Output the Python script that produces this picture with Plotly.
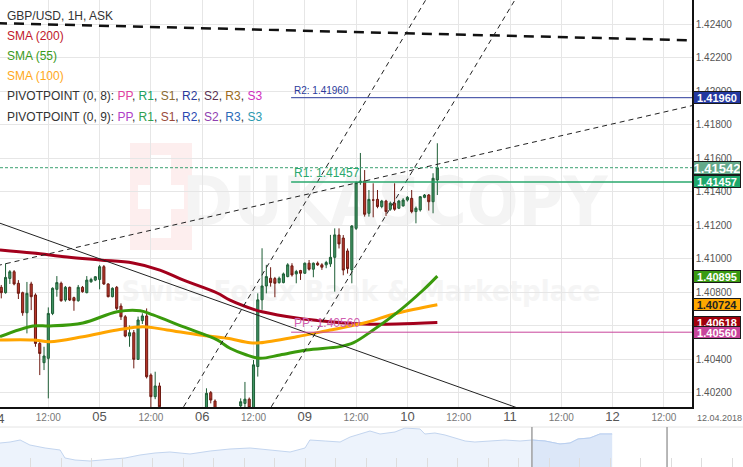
import plotly.graph_objects as go

# ---------------- data ----------------
# trading-hour index: 04.04 00:00 = 0, weekend removed (09.04 00:00 = 72)
hours = list(range(1, 104))
opens = [1.40828, 1.40796, 1.40881, 1.40921, 1.40852, 1.40796, 1.40676, 1.40848, 1.40782, 1.40493,
         1.40378, 1.40404, 1.40672, 1.40816, 1.40852, 1.40752, 1.40828, 1.40766, 1.40748, 1.40828,
         1.40796, 1.40861, 1.40871, 1.40875, 1.40951, 1.40848, 1.40772, 1.40828, 1.40716, 1.40652,
         1.40537, 1.40557, 1.40398, 1.40629, 1.40657, 1.40304, 1.40175, 1.40239, 1.40100, 1.40030,
         1.40070, 1.39990, 1.39940, 1.39995, 1.40050, 1.39980, 1.40040, 1.40080, 1.40090, 1.40199,
         1.40149, 1.40090, 1.40040, 1.40080, 1.40030, 1.40070, 1.40120, 1.40135, 1.40160, 1.40105,
         1.40355, 1.40753, 1.40836, 1.40882, 1.40880, 1.40856, 1.40856, 1.40892, 1.40956, 1.40908,
         1.40928, 1.40912, 1.40972, 1.40936, 1.40972, 1.40962, 1.40962, 1.40968, 1.41007, 1.41140,
         1.41122, 1.41045, 1.40932, 1.41180, 1.41453, 1.41463, 1.41270, 1.41349, 1.41353, 1.41310,
         1.41343, 1.41294, 1.41330, 1.41300, 1.41314, 1.41349, 1.41359, 1.41280, 1.41290, 1.41365,
         1.41379, 1.41339, 1.41469]
highs = [1.40842, 1.40971, 1.40931, 1.40931, 1.40871, 1.40802, 1.40860, 1.40861, 1.40792, 1.40503,
         1.40473, 1.40708, 1.40828, 1.40895, 1.40862, 1.40836, 1.40832, 1.40772, 1.40842, 1.40836,
         1.40895, 1.40885, 1.40895, 1.40961, 1.40961, 1.40852, 1.40828, 1.40836, 1.40732, 1.40662,
         1.40600, 1.40573, 1.40653, 1.40673, 1.40702, 1.40314, 1.40324, 1.40259, 1.40105, 1.40095,
         1.40090, 1.40010, 1.40020, 1.40080, 1.40070, 1.40060, 1.40095, 1.40100, 1.40225, 1.40209,
         1.40159, 1.40105, 1.40100, 1.40095, 1.40090, 1.40105, 1.40165, 1.40263, 1.40170, 1.40394,
         1.40792, 1.41061, 1.40962, 1.40948, 1.40890, 1.40892, 1.40916, 1.40972, 1.40972, 1.40932,
         1.40932, 1.40976, 1.40991, 1.40976, 1.40982, 1.40972, 1.40986, 1.41141, 1.41180, 1.41180,
         1.41140, 1.41060, 1.41200, 1.41460, 1.41630, 1.41528, 1.41409, 1.41449, 1.41409, 1.41350,
         1.41350, 1.41340, 1.41449, 1.41350, 1.41360, 1.41373, 1.41409, 1.41310, 1.41373, 1.41385,
         1.41385, 1.41509, 1.41688]
lows = [1.40762, 1.40790, 1.40848, 1.40840, 1.40758, 1.40658, 1.40553, 1.40692, 1.40473, 1.40304,
        1.40334, 1.40165, 1.40662, 1.40772, 1.40742, 1.40742, 1.40746, 1.40688, 1.40742, 1.40796,
        1.40792, 1.40855, 1.40865, 1.40816, 1.40842, 1.40768, 1.40768, 1.40692, 1.40633, 1.40530,
        1.40473, 1.40344, 1.40394, 1.40609, 1.40284, 1.40100, 1.40160, 1.40060, 1.39980, 1.40000,
        1.39960, 1.39900, 1.39920, 1.39970, 1.39950, 1.39960, 1.40010, 1.40050, 1.40060, 1.40135,
        1.40050, 1.40000, 1.40020, 1.39990, 1.40010, 1.40050, 1.40080, 1.40110, 1.40080, 1.40070,
        1.40295, 1.40693, 1.40792, 1.40832, 1.40769, 1.40850, 1.40852, 1.40888, 1.40892, 1.40852,
        1.40872, 1.40908, 1.40928, 1.40888, 1.40956, 1.40932, 1.40942, 1.40950, 1.40802, 1.41060,
        1.40900, 1.40910, 1.40852, 1.41170, 1.41440, 1.41250, 1.41250, 1.41246, 1.41300, 1.41300,
        1.41254, 1.41285, 1.41285, 1.41295, 1.41310, 1.41340, 1.41270, 1.41210, 1.41280, 1.41360,
        1.41286, 1.41270, 1.41379]
closes = [1.40796, 1.40887, 1.40921, 1.40848, 1.40792, 1.40676, 1.40792, 1.40772, 1.40493, 1.40433,
          1.40418, 1.40672, 1.40822, 1.40856, 1.40748, 1.40828, 1.40752, 1.40748, 1.40828, 1.40802,
          1.40871, 1.40875, 1.40891, 1.40951, 1.40848, 1.40772, 1.40822, 1.40702, 1.40652, 1.40537,
          1.40557, 1.40398, 1.40633, 1.40657, 1.40294, 1.40175, 1.40239, 1.40115, 1.40030, 1.40070,
          1.39990, 1.39940, 1.39995, 1.40050, 1.39980, 1.40040, 1.40080, 1.40090, 1.40195, 1.40155,
          1.40090, 1.40040, 1.40080, 1.40030, 1.40070, 1.40100, 1.40145, 1.40160, 1.40110, 1.40365,
          1.40753, 1.40836, 1.40892, 1.40856, 1.40852, 1.40882, 1.40908, 1.40962, 1.40902, 1.40922,
          1.40912, 1.40972, 1.40936, 1.40972, 1.40962, 1.40948, 1.40976, 1.41007, 1.41141, 1.41087,
          1.40931, 1.40940, 1.41194, 1.41453, 1.41462, 1.41264, 1.41353, 1.41349, 1.41310, 1.41343,
          1.41280, 1.41330, 1.41294, 1.41343, 1.41349, 1.41365, 1.41280, 1.41300, 1.41369, 1.41379,
          1.41339, 1.41479, 1.41542]

sma200_hours = [0.7, 8.4, 16.4, 24.1, 31.8, 38.1, 43.5, 51.5, 54.5, 60.2, 62.0, 70.1, 77.9, 85.6, 93.5, 103]
sma200_vals = [1.41051, 1.41033, 1.41009, 1.40991, 1.40973, 1.40931, 1.40872, 1.40794, 1.40752, 1.40695,
               1.40682, 1.40645, 1.40623, 1.40609, 1.40609, 1.40618]
sma55_hours = [0.7, 8.4, 12.4, 20.1, 28.1, 33.5, 36.5, 43.5, 51.5, 54.5, 58.4, 61.5, 66.2, 72.4, 80.2,
               83.3, 88, 93.5, 99.7, 103]
sma55_vals = [1.40533, 1.40597, 1.40597, 1.40615, 1.40682, 1.40688, 1.40663, 1.40593, 1.40514, 1.40464,
              1.40424, 1.40404, 1.40424, 1.40454, 1.40474, 1.40496, 1.40573, 1.40675, 1.40812, 1.40895]
sma100_hours = [0.7, 8.4, 12.4, 20.1, 28.1, 34.2, 39.8, 47.5, 53.8, 59.2, 61.5, 70.1, 77.9, 85.6, 93.5, 103]
sma100_vals = [1.40514, 1.40514, 1.40503, 1.40533, 1.40573, 1.40593, 1.40573, 1.40543, 1.40524, 1.40497,
               1.40497, 1.40533, 1.40573, 1.40613, 1.40673, 1.40724]

pivot_start_hour = 68.8
pivot_names = ["R2", "R1", "PP"]
pivot_values = [1.41960, 1.41457, 1.40560]
last_price = 1.41542

# drawn trend lines: (hour, price) anchor pairs
top_dash_h, top_dash_p = [0, 165], [1.42405, 1.42301]
rise_dash_h, rise_dash_p = [0, 165], [1.40957, 1.41927]
chan_left_h, chan_left_p = [40.42, 103.07], [1.39976, 1.42663]
chan_right_h, chan_right_p = [60.91, 123.95], [1.39976, 1.42663]
fall_solid_h, fall_solid_p = [0, 127.0], [1.41217, 1.40060]

tick_hours = [12, 24, 36, 48, 60, 72, 84, 96, 108, 120, 132, 144, 156]
tick_labels = ["12:00", "05", "12:00", "06", "12:00", "09", "12:00", "10", "12:00", "11", "12:00", "12", "12:00"]
price_ticks = [1.402, 1.404, 1.406, 1.408, 1.410, 1.412, 1.414, 1.416, 1.418, 1.420, 1.422, 1.424]

# navigator (overview) series
nav_days = [0.0, 0.33, 0.66, 0.98, 1.48, 1.97, 2.13, 2.46, 2.95, 3.61, 4.10, 4.59, 5.08, 5.57, 6.23,
            6.89, 7.54, 8.20, 8.85, 9.51, 10.0, 10.16, 10.66, 11.15, 11.48, 11.97, 12.13, 12.46, 12.95,
            13.28, 13.77, 13.93, 14.26, 14.59, 14.92, 15.25, 15.57, 16.07, 16.56, 17.05, 17.44, 17.87,
            18.36, 18.69, 18.95, 19.34, 19.67, 20.07]
nav_vals = [1.4038, 1.4050, 1.4074, 1.4014, 1.3978, 1.3954, 1.3858, 1.3834, 1.3822, 1.3846, 1.3858,
            1.3894, 1.3918, 1.3930, 1.3906, 1.3942, 1.3966, 1.3978, 1.3954, 1.3930, 1.3978, 1.4074,
            1.4062, 1.4050, 1.4110, 1.4158, 1.4182, 1.4146, 1.4170, 1.4218, 1.4206, 1.4146, 1.4158,
            1.4134, 1.4098, 1.4062, 1.4050, 1.4062, 1.4074, 1.4062, 1.4074, 1.4062, 1.4026, 1.4038,
            1.4086, 1.4098, 1.4146, 1.4146]
nav_window = (17.44, 21.87)

# ---------------- figure ----------------
W, H = 743, 467
PX_PER_H = 4.275
x_range = [3 / PX_PER_H, 695 / PX_PER_H]
y_range = [1.401134, 1.425433]
FONT = "Liberation Sans, Arial, sans-serif"
WM_FONT = "Liberation Sans Narrow, DejaVu Sans Condensed, Arial Narrow, sans-serif"

fig = go.Figure()

fig.add_trace(go.Candlestick(
    x=hours, open=opens, high=highs, low=lows, close=closes,
    increasing=dict(line=dict(color="#1e5e36", width=1), fillcolor="#3f9463"),
    decreasing=dict(line=dict(color="#6e1a12", width=1), fillcolor="#b8362a"),
    whiskerwidth=0, hoverinfo="skip", xaxis="x", yaxis="y"))

for hh, vv, col in [(sma200_hours, sma200_vals, "#a3001c"),
                    (sma100_hours, sma100_vals, "#ffa500"),
                    (sma55_hours, sma55_vals, "#3a9a0c")]:
    fig.add_trace(go.Scatter(x=hh, y=vv, mode="lines", line=dict(color=col, width=3, shape="spline"),
                             hoverinfo="skip"))

for hh, pp, w, dash, col in [(top_dash_h, top_dash_p, 2.5, "10px,7px", "#111"),
                             (rise_dash_h, rise_dash_p, 1, "5px,4px", "#222"),
                             (chan_left_h, chan_left_p, 1, "5px,4px", "#222"),
                             (chan_right_h, chan_right_p, 1, "5px,4px", "#222"),
                             (fall_solid_h, fall_solid_p, 1, "solid", "#222")]:
    fig.add_trace(go.Scatter(x=hh, y=pp, mode="lines", line=dict(color=col, width=w, dash=dash),
                             hoverinfo="skip"))

pivot_colors = {"R2": "#2a3a9a", "R1": "#2aa86e", "PP": "#c8449c"}
pivot_text_colors = {"R2": "#2a3a9a", "R1": "#2aa86e", "PP": "#d060b0"}
pivot_text_sizes = {"R2": 10, "R1": 12, "PP": 12}
for name, val in zip(pivot_names, pivot_values):
    fig.add_trace(go.Scatter(x=[pivot_start_hour, x_range[1]], y=[val, val], mode="lines",
                             line=dict(color=pivot_colors[name], width=1.5 if name == "R1" else 1),
                             hoverinfo="skip"))

# navigator
fig.add_trace(go.Scatter(x=nav_days, y=nav_vals, mode="lines", fill="tozeroy",
                         line=dict(color="#c3d5ef", width=1), fillcolor="#edf3fc",
                         xaxis="x2", yaxis="y2", hoverinfo="skip"))
win_days = [d for d in nav_days if d >= nav_window[0]]
win_vals = [v for d, v in zip(nav_days, nav_vals) if d >= nav_window[0]]
fig.add_trace(go.Scatter(x=win_days, y=win_vals, mode="lines", fill="tozeroy",
                         line=dict(color="#b9cff0", width=1), fillcolor="#dce7f8",
                         xaxis="x2", yaxis="y2", hoverinfo="skip"))


def px(x):
    return x / W


def py(y):
    return 1 - y / H


shapes = [
    # watermark
    dict(type="rect", xref="paper", yref="paper", x0=px(130), x1=px(192), y0=py(250), y1=py(143),
         fillcolor="#fdeeee", line=dict(width=0), layer="below"),
    dict(type="rect", xref="paper", yref="paper", x0=px(151), x1=px(171), y0=py(238), y1=py(155),
         fillcolor="#ffffff", line=dict(width=0), layer="below"),
    dict(type="rect", xref="paper", yref="paper", x0=px(138), x1=px(184), y0=py(209), y1=py(185),
         fillcolor="#ffffff", line=dict(width=0), layer="below"),
    dict(type="rect", xref="paper", yref="paper", x0=px(198), x1=px(592), y0=py(250), y1=py(143),
         line=dict(width=0), layer="below",
         label=dict(text="<b>DUKASCOPY</b>", textposition="middle center",
                    font=dict(family=WM_FONT, size=68, color="#f4f4f4"))),
    dict(type="rect", xref="paper", yref="paper", x0=px(130), x1=px(592), y0=py(312), y1=py(266),
         line=dict(width=0), layer="below",
         label=dict(text="<b>Swiss Forex Bank &amp; Marketplace</b>", textposition="middle center",
                    font=dict(family=WM_FONT, size=29, color="#f5f5f5"))),
    # current price line
    dict(type="line", xref="x domain", yref="y", x0=0, x1=1, y0=last_price, y1=last_price,
         line=dict(color="#3aa070", width=1, dash="3px,2px")),
    # navigator top border and window lines
    dict(type="line", xref="paper", yref="paper", x0=0, x1=1, y0=py(427), y1=py(427),
         line=dict(color="#e4e4e4", width=1)),
    dict(type="line", xref="x2", yref="paper", x0=nav_window[0], x1=nav_window[0], y0=0, y1=py(427),
         line=dict(color="#a0a0a0", width=1.5)),
    dict(type="line", xref="x2", yref="paper", x0=nav_window[1], x1=nav_window[1], y0=0, y1=py(427),
         line=dict(color="#a0a0a0", width=1.5)),
]

annotations = []
# top-left legend
pp8 = ("PIVOTPOINT (0, 8): <span style='color:#e040a0'>PP</span>, <span style='color:#20a060'>R1</span>, "
       "<span style='color:#8a6a30'>S1</span>, <span style='color:#2a3a9a'>R2</span>, "
       "<span style='color:#5a3050'>S2</span>, <span style='color:#9a6a20'>R3</span>, "
       "<span style='color:#d030c0'>S3</span>")
pp9 = ("PIVOTPOINT (0, 9): <span style='color:#b040c8'>PP</span>, <span style='color:#30a050'>R1</span>, "
       "<span style='color:#9a4a3a'>S1</span>, <span style='color:#2a48b0'>R2</span>, "
       "<span style='color:#9040b0'>S2</span>, <span style='color:#2a6ab8'>R3</span>, "
       "<span style='color:#2a9ab0'>S3</span>")
legend_rows = [("GBP/USD, 1H, ASK", "#333"), ("SMA (200)", "#c0182a"), ("SMA (55)", "#3a9a1a"),
               ("SMA (100)", "#ffa81a"), (pp8, "#333"), (pp9, "#333")]
for i, (txt, col) in enumerate(legend_rows):
    annotations.append(dict(xref="paper", yref="paper", x=px(5), y=py(15.5 + 20.2 * i), xanchor="left",
                            yanchor="middle", showarrow=False, text=txt,
                            font=dict(family=FONT, size=12, color=col)))

# pivot labels on lines
for name, val in zip(pivot_names, pivot_values):
    annotations.append(dict(xref="x", yref="y", x=pivot_start_hour, y=val, xanchor="left", yanchor="bottom",
                            xshift=1, showarrow=False, text=f"{name}: {val:.5f}",
                            font=dict(family=FONT, size=pivot_text_sizes[name], color=pivot_text_colors[name])))

# right-side value boxes
boxes = [(pivot_values[0], "#2338a0", "#ffffff", 11, 11),
         (last_price, "#64a98a", "#ffffff", 13, 12),
         (pivot_values[1], "#1ea86c", "#ffffff", 11, 11),
         (sma55_vals[-1], "#3a9a12", "#ffffff", 11, 11),
         (sma100_vals[-1], "#ffa800", "#222222", 11, 11),
         (sma200_vals[-1], "#a0000c", "#ffffff", 11, 11),
         (pivot_values[2], "#c8449c", "#ffffff", 11, 11)]
for val, bg, fc, fs, hgt in boxes:
    annotations.append(dict(xref="paper", yref="y", x=px(693), y=val, xanchor="left", yanchor="middle",
                            showarrow=False, text=f"<b>{val:.5f}</b>", bgcolor=bg,
                            bordercolor="#1a1a1a", borderwidth=1, borderpad=0, width=46, height=hgt,
                            font=dict(family=FONT, size=fs, color=fc)))

# clipped first day label and date label
annotations.append(dict(xref="paper", yref="paper", x=px(-3), y=py(418), xanchor="center", yanchor="middle",
                        showarrow=False, text="04", font=dict(family=FONT, size=13, color="#555")))
annotations.append(dict(xref="paper", yref="paper", x=px(719), y=py(418), xanchor="center", yanchor="middle",
                        showarrow=False, text="12.04.2018", font=dict(family=FONT, size=9, color="#666")))

ticktext = [f"<span style='font-size:13px;color:#555'>{t}</span>" if t != "12:00" else t for t in tick_labels]

fig.update_layout(
    template="none",
    width=W, height=H, margin=dict(l=0, r=0, t=0, b=0, pad=0),
    paper_bgcolor="white", plot_bgcolor="white", showlegend=False,
    font=dict(family=FONT, size=10, color="#555"),
    xaxis=dict(domain=[0, 692 / W], range=x_range, anchor="y", tickmode="array", tickvals=tick_hours,
               ticktext=ticktext, showgrid=True, gridcolor="#e6e6e6", gridwidth=1, zeroline=False,
               showline=True, linecolor="#111", linewidth=1.5, ticks="", automargin=False,
               tickfont=dict(family=FONT, size=10, color="#777"), rangeslider=dict(visible=False)),
    yaxis=dict(domain=[60 / H, 1], range=y_range, anchor="x", side="right", tickmode="array",
               tickvals=price_ticks, ticktext=[f"{v:.5f}" for v in price_ticks], showgrid=True,
               gridcolor="#e6e6e6", gridwidth=1, zeroline=False, showline=True, linecolor="#111",
               linewidth=1.5, ticks="", automargin=False, tickfont=dict(family=FONT, size=10, color="#555")),
    xaxis2=dict(domain=[0, 1], range=[0, 743 / 30.5], anchor="y2", showgrid=False, zeroline=False,
                showline=False, ticks="inside", ticklen=9, tickcolor="#dddddd", tickmode="linear", tick0=0,
                dtick=1, showticklabels=False, automargin=False),
    yaxis2=dict(domain=[0, 40 / H], range=[1.375, 1.423], visible=False, automargin=False),
    shapes=shapes, annotations=annotations,
)

fig.write_html("out.html", config={"displayModeBar": False},
               post_script="document.body.style.margin='0';document.body.style.overflow='hidden';")
